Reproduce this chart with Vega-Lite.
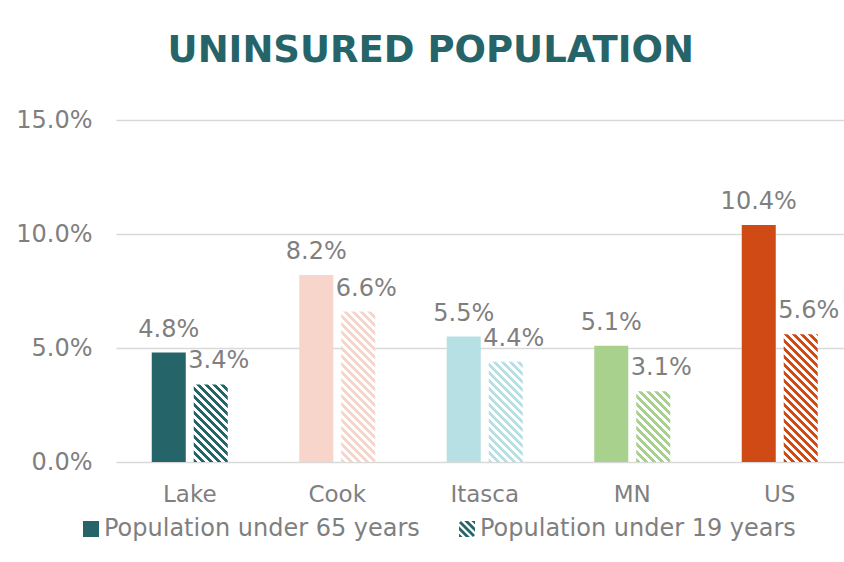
{
  "$schema": "https://vega.github.io/schema/vega-lite/v6.json",
  "autosize": {"type": "none"},
  "width": 737.5,
  "height": 342,
  "padding": {"left": 116, "top": 120, "right": 0, "bottom": 100},
  "background": "white",
  "config": {"view": {"stroke": null}},
  "title": {"text": "UNINSURED POPULATION", "font": "DejaVu Sans", "fontSize": 37, "fontWeight": "bold", "color": "#256569", "anchor": "middle", "frame": "group", "dx": -54, "baseline": "alphabetic", "offset": 9},
  "data": {"values": [
    {"county": "Lake", "series": "Population under 65 years", "value": 0.048},
    {"county": "Lake", "series": "Population under 19 years", "value": 0.034},
    {"county": "Cook", "series": "Population under 65 years", "value": 0.082},
    {"county": "Cook", "series": "Population under 19 years", "value": 0.066},
    {"county": "Itasca", "series": "Population under 65 years", "value": 0.055},
    {"county": "Itasca", "series": "Population under 19 years", "value": 0.044},
    {"county": "MN", "series": "Population under 65 years", "value": 0.051},
    {"county": "MN", "series": "Population under 19 years", "value": 0.031},
    {"county": "US", "series": "Population under 65 years", "value": 0.104},
    {"county": "US", "series": "Population under 19 years", "value": 0.056}
  ]},
  "encoding": {
    "x": {"field": "county", "type": "nominal", "sort": ["Lake", "Cook", "Itasca", "MN", "US"],
      "scale": {"paddingInner": 0.4847, "paddingOuter": 0.2424},
      "axis": {"title": null, "domain": false, "ticks": false, "labelAngle": 0, "labelPadding": 21, "labelFontSize": 23, "labelFont": "DejaVu Sans", "labelColor": "#7f7f7f"}},
    "xOffset": {"field": "series", "type": "nominal", "sort": ["Population under 65 years", "Population under 19 years"],
      "scale": {"paddingInner": 0.19, "paddingOuter": 0}},
    "y": {"field": "value", "type": "quantitative", "scale": {"domain": [0, 0.15]},
      "axis": {"title": null, "values": [0, 0.05, 0.1, 0.15], "format": ".1%", "domain": false, "ticks": false, "labelPadding": 24, "labelFontSize": 24, "labelFont": "DejaVu Sans", "labelColor": "#7f7f7f", "gridColor": "#d9d9d9", "gridWidth": 1.5}}
  },
  "layer": [
    {
      "mark": {"type": "point", "filled": true, "opacity": 0, "color": "#256569"},
      "encoding": {
        "shape": {"field": "series", "type": "nominal",
          "scale": {"domain": ["Population under 65 years", "Population under 19 years"],
            "range": ["square", "M-1,-0.75L-0.75,-1L1,0.75L0.75,1ZM-0.35,-1L0.15,-1L1,-0.15L1,0.35ZM-1,-0.35L0.35,1L-0.15,1L-1,0.15ZM0.55,-1L1,-1L1,-0.55ZM-1,0.55L-0.55,1L-1,1Z"]},
          "legend": {"title": null, "orient": "none", "legendX": -37, "legendY": 397, "direction": "horizontal", "symbolSize": 256, "labelFontSize": 24, "labelFont": "DejaVu Sans", "labelColor": "#7f7f7f", "labelOffset": 1, "columnPadding": 35, "labelLimit": 600, "padding": 0, "symbolStrokeWidth": 0,
            "encode": {"symbols": {"update": {"opacity": {"value": 1}, "fill": {"value": "#256569"}}}}}}
      }
    },
    {
      "transform": [{"filter": "datum.series === 'Population under 65 years'"}],
      "mark": {"type": "bar"},
      "encoding": {
        "color": {"field": "county", "type": "nominal", "legend": null,
          "scale": {"domain": ["Lake", "Cook", "Itasca", "MN", "US"], "range": ["#256569", "#F8D5CA", "#B6E0E4", "#A9D18E", "#D04A16"]}}
      }
    },
    {
      "transform": [{"filter": "datum.series === 'Population under 19 years' && datum.county === 'Lake'"}],
      "mark": {"type": "bar", "fill": {"gradient": "linear", "x1": 0, "y1": 1, "x2": 0.949, "y2": -1.1637, "stops": [
        {"offset":0,"color":"#256569"},{"offset":0.02,"color":"#256569"},{"offset":0.02,"color":"#fff"},{"offset":0.04,"color":"#fff"},
        {"offset":0.04,"color":"#256569"},{"offset":0.06,"color":"#256569"},{"offset":0.06,"color":"#fff"},{"offset":0.08,"color":"#fff"},
        {"offset":0.08,"color":"#256569"},{"offset":0.1,"color":"#256569"},{"offset":0.1,"color":"#fff"},{"offset":0.12,"color":"#fff"},
        {"offset":0.12,"color":"#256569"},{"offset":0.14,"color":"#256569"},{"offset":0.14,"color":"#fff"},{"offset":0.16,"color":"#fff"},
        {"offset":0.16,"color":"#256569"},{"offset":0.18,"color":"#256569"},{"offset":0.18,"color":"#fff"},{"offset":0.2,"color":"#fff"},
        {"offset":0.2,"color":"#256569"},{"offset":0.22,"color":"#256569"},{"offset":0.22,"color":"#fff"},{"offset":0.24,"color":"#fff"},
        {"offset":0.24,"color":"#256569"},{"offset":0.26,"color":"#256569"},{"offset":0.26,"color":"#fff"},{"offset":0.28,"color":"#fff"},
        {"offset":0.28,"color":"#256569"},{"offset":0.3,"color":"#256569"},{"offset":0.3,"color":"#fff"},{"offset":0.32,"color":"#fff"},
        {"offset":0.32,"color":"#256569"},{"offset":0.34,"color":"#256569"},{"offset":0.34,"color":"#fff"},{"offset":0.36,"color":"#fff"},
        {"offset":0.36,"color":"#256569"},{"offset":0.38,"color":"#256569"},{"offset":0.38,"color":"#fff"},{"offset":0.4,"color":"#fff"},
        {"offset":0.4,"color":"#256569"},{"offset":0.42,"color":"#256569"},{"offset":0.42,"color":"#fff"},{"offset":0.44,"color":"#fff"},
        {"offset":0.44,"color":"#256569"},{"offset":0.46,"color":"#256569"},{"offset":0.46,"color":"#fff"},{"offset":0.48,"color":"#fff"},
        {"offset":0.48,"color":"#256569"},{"offset":0.5,"color":"#256569"},{"offset":0.5,"color":"#fff"},{"offset":0.52,"color":"#fff"},
        {"offset":0.52,"color":"#256569"},{"offset":0.54,"color":"#256569"},{"offset":0.54,"color":"#fff"},{"offset":0.56,"color":"#fff"}
      ]}}
    },
    {
      "transform": [{"filter": "datum.series === 'Population under 19 years' && datum.county === 'Cook'"}],
      "mark": {"type": "bar", "fill": {"gradient": "linear", "x1": 0, "y1": 1, "x2": 0.2857, "y2": -0.2645, "stops": [
        {"offset":0,"color":"#F8D5CA"},{"offset":0.02,"color":"#F8D5CA"},{"offset":0.02,"color":"#fff"},{"offset":0.04,"color":"#fff"},
        {"offset":0.04,"color":"#F8D5CA"},{"offset":0.06,"color":"#F8D5CA"},{"offset":0.06,"color":"#fff"},{"offset":0.08,"color":"#fff"},
        {"offset":0.08,"color":"#F8D5CA"},{"offset":0.1,"color":"#F8D5CA"},{"offset":0.1,"color":"#fff"},{"offset":0.12,"color":"#fff"},
        {"offset":0.12,"color":"#F8D5CA"},{"offset":0.14,"color":"#F8D5CA"},{"offset":0.14,"color":"#fff"},{"offset":0.16,"color":"#fff"},
        {"offset":0.16,"color":"#F8D5CA"},{"offset":0.18,"color":"#F8D5CA"},{"offset":0.18,"color":"#fff"},{"offset":0.2,"color":"#fff"},
        {"offset":0.2,"color":"#F8D5CA"},{"offset":0.22,"color":"#F8D5CA"},{"offset":0.22,"color":"#fff"},{"offset":0.24,"color":"#fff"},
        {"offset":0.24,"color":"#F8D5CA"},{"offset":0.26,"color":"#F8D5CA"},{"offset":0.26,"color":"#fff"},{"offset":0.28,"color":"#fff"},
        {"offset":0.28,"color":"#F8D5CA"},{"offset":0.3,"color":"#F8D5CA"},{"offset":0.3,"color":"#fff"},{"offset":0.32,"color":"#fff"},
        {"offset":0.32,"color":"#F8D5CA"},{"offset":0.34,"color":"#F8D5CA"},{"offset":0.34,"color":"#fff"},{"offset":0.36,"color":"#fff"},
        {"offset":0.36,"color":"#F8D5CA"},{"offset":0.38,"color":"#F8D5CA"},{"offset":0.38,"color":"#fff"},{"offset":0.4,"color":"#fff"},
        {"offset":0.4,"color":"#F8D5CA"},{"offset":0.42,"color":"#F8D5CA"},{"offset":0.42,"color":"#fff"},{"offset":0.44,"color":"#fff"},
        {"offset":0.44,"color":"#F8D5CA"},{"offset":0.46,"color":"#F8D5CA"},{"offset":0.46,"color":"#fff"},{"offset":0.48,"color":"#fff"},
        {"offset":0.48,"color":"#F8D5CA"},{"offset":0.5,"color":"#F8D5CA"},{"offset":0.5,"color":"#fff"},{"offset":0.52,"color":"#fff"},
        {"offset":0.52,"color":"#F8D5CA"},{"offset":0.54,"color":"#F8D5CA"},{"offset":0.54,"color":"#fff"},{"offset":0.56,"color":"#fff"},
        {"offset":0.56,"color":"#F8D5CA"},{"offset":0.58,"color":"#F8D5CA"},{"offset":0.58,"color":"#fff"},{"offset":0.6,"color":"#fff"},
        {"offset":0.6,"color":"#F8D5CA"},{"offset":0.62,"color":"#F8D5CA"},{"offset":0.62,"color":"#fff"},{"offset":0.64,"color":"#fff"},
        {"offset":0.64,"color":"#F8D5CA"},{"offset":0.66,"color":"#F8D5CA"},{"offset":0.66,"color":"#fff"},{"offset":0.68,"color":"#fff"},
        {"offset":0.68,"color":"#F8D5CA"},{"offset":0.7,"color":"#F8D5CA"},{"offset":0.7,"color":"#fff"},{"offset":0.72,"color":"#fff"},
        {"offset":0.72,"color":"#F8D5CA"},{"offset":0.74,"color":"#F8D5CA"},{"offset":0.74,"color":"#fff"},{"offset":0.76,"color":"#fff"},
        {"offset":0.76,"color":"#F8D5CA"},{"offset":0.78,"color":"#F8D5CA"},{"offset":0.78,"color":"#fff"},{"offset":0.8,"color":"#fff"},
        {"offset":0.8,"color":"#F8D5CA"},{"offset":0.82,"color":"#F8D5CA"},{"offset":0.82,"color":"#fff"},{"offset":0.84,"color":"#fff"},
        {"offset":0.84,"color":"#F8D5CA"},{"offset":0.86,"color":"#F8D5CA"},{"offset":0.86,"color":"#fff"},{"offset":0.88,"color":"#fff"},
        {"offset":0.88,"color":"#F8D5CA"},{"offset":0.9,"color":"#F8D5CA"},{"offset":0.9,"color":"#fff"},{"offset":0.92,"color":"#fff"},
        {"offset":0.92,"color":"#F8D5CA"},{"offset":0.94,"color":"#F8D5CA"},{"offset":0.94,"color":"#fff"},{"offset":0.96,"color":"#fff"}
      ]}}
    },
    {
      "transform": [{"filter": "datum.series === 'Population under 19 years' && datum.county === 'Itasca'"}],
      "mark": {"type": "bar", "fill": {"gradient": "linear", "x1": 0, "y1": 1, "x2": 0.6061, "y2": -0.7882, "stops": [
        {"offset":0,"color":"#B6E0E4"},{"offset":0.02,"color":"#B6E0E4"},{"offset":0.02,"color":"#fff"},{"offset":0.04,"color":"#fff"},
        {"offset":0.04,"color":"#B6E0E4"},{"offset":0.06,"color":"#B6E0E4"},{"offset":0.06,"color":"#fff"},{"offset":0.08,"color":"#fff"},
        {"offset":0.08,"color":"#B6E0E4"},{"offset":0.1,"color":"#B6E0E4"},{"offset":0.1,"color":"#fff"},{"offset":0.12,"color":"#fff"},
        {"offset":0.12,"color":"#B6E0E4"},{"offset":0.14,"color":"#B6E0E4"},{"offset":0.14,"color":"#fff"},{"offset":0.16,"color":"#fff"},
        {"offset":0.16,"color":"#B6E0E4"},{"offset":0.18,"color":"#B6E0E4"},{"offset":0.18,"color":"#fff"},{"offset":0.2,"color":"#fff"},
        {"offset":0.2,"color":"#B6E0E4"},{"offset":0.22,"color":"#B6E0E4"},{"offset":0.22,"color":"#fff"},{"offset":0.24,"color":"#fff"},
        {"offset":0.24,"color":"#B6E0E4"},{"offset":0.26,"color":"#B6E0E4"},{"offset":0.26,"color":"#fff"},{"offset":0.28,"color":"#fff"},
        {"offset":0.28,"color":"#B6E0E4"},{"offset":0.3,"color":"#B6E0E4"},{"offset":0.3,"color":"#fff"},{"offset":0.32,"color":"#fff"},
        {"offset":0.32,"color":"#B6E0E4"},{"offset":0.34,"color":"#B6E0E4"},{"offset":0.34,"color":"#fff"},{"offset":0.36,"color":"#fff"},
        {"offset":0.36,"color":"#B6E0E4"},{"offset":0.38,"color":"#B6E0E4"},{"offset":0.38,"color":"#fff"},{"offset":0.4,"color":"#fff"},
        {"offset":0.4,"color":"#B6E0E4"},{"offset":0.42,"color":"#B6E0E4"},{"offset":0.42,"color":"#fff"},{"offset":0.44,"color":"#fff"},
        {"offset":0.44,"color":"#B6E0E4"},{"offset":0.46,"color":"#B6E0E4"},{"offset":0.46,"color":"#fff"},{"offset":0.48,"color":"#fff"},
        {"offset":0.48,"color":"#B6E0E4"},{"offset":0.5,"color":"#B6E0E4"},{"offset":0.5,"color":"#fff"},{"offset":0.52,"color":"#fff"},
        {"offset":0.52,"color":"#B6E0E4"},{"offset":0.54,"color":"#B6E0E4"},{"offset":0.54,"color":"#fff"},{"offset":0.56,"color":"#fff"},
        {"offset":0.56,"color":"#B6E0E4"},{"offset":0.58,"color":"#B6E0E4"},{"offset":0.58,"color":"#fff"},{"offset":0.6,"color":"#fff"},
        {"offset":0.6,"color":"#B6E0E4"},{"offset":0.62,"color":"#B6E0E4"},{"offset":0.62,"color":"#fff"},{"offset":0.64,"color":"#fff"},
        {"offset":0.64,"color":"#B6E0E4"},{"offset":0.66,"color":"#B6E0E4"},{"offset":0.66,"color":"#fff"},{"offset":0.68,"color":"#fff"}
      ]}}
    },
    {
      "transform": [{"filter": "datum.series === 'Population under 19 years' && datum.county === 'MN'"}],
      "mark": {"type": "bar", "fill": {"gradient": "linear", "x1": 0, "y1": 1, "x2": 1.1054, "y2": -1.2979, "stops": [
        {"offset":0,"color":"#A9D18E"},{"offset":0.02,"color":"#A9D18E"},{"offset":0.02,"color":"#fff"},{"offset":0.04,"color":"#fff"},
        {"offset":0.04,"color":"#A9D18E"},{"offset":0.06,"color":"#A9D18E"},{"offset":0.06,"color":"#fff"},{"offset":0.08,"color":"#fff"},
        {"offset":0.08,"color":"#A9D18E"},{"offset":0.1,"color":"#A9D18E"},{"offset":0.1,"color":"#fff"},{"offset":0.12,"color":"#fff"},
        {"offset":0.12,"color":"#A9D18E"},{"offset":0.14,"color":"#A9D18E"},{"offset":0.14,"color":"#fff"},{"offset":0.16,"color":"#fff"},
        {"offset":0.16,"color":"#A9D18E"},{"offset":0.18,"color":"#A9D18E"},{"offset":0.18,"color":"#fff"},{"offset":0.2,"color":"#fff"},
        {"offset":0.2,"color":"#A9D18E"},{"offset":0.22,"color":"#A9D18E"},{"offset":0.22,"color":"#fff"},{"offset":0.24,"color":"#fff"},
        {"offset":0.24,"color":"#A9D18E"},{"offset":0.26,"color":"#A9D18E"},{"offset":0.26,"color":"#fff"},{"offset":0.28,"color":"#fff"},
        {"offset":0.28,"color":"#A9D18E"},{"offset":0.3,"color":"#A9D18E"},{"offset":0.3,"color":"#fff"},{"offset":0.32,"color":"#fff"},
        {"offset":0.32,"color":"#A9D18E"},{"offset":0.34,"color":"#A9D18E"},{"offset":0.34,"color":"#fff"},{"offset":0.36,"color":"#fff"},
        {"offset":0.36,"color":"#A9D18E"},{"offset":0.38,"color":"#A9D18E"},{"offset":0.38,"color":"#fff"},{"offset":0.4,"color":"#fff"},
        {"offset":0.4,"color":"#A9D18E"},{"offset":0.42,"color":"#A9D18E"},{"offset":0.42,"color":"#fff"},{"offset":0.44,"color":"#fff"},
        {"offset":0.44,"color":"#A9D18E"},{"offset":0.46,"color":"#A9D18E"},{"offset":0.46,"color":"#fff"},{"offset":0.48,"color":"#fff"},
        {"offset":0.48,"color":"#A9D18E"},{"offset":0.5,"color":"#A9D18E"},{"offset":0.5,"color":"#fff"},{"offset":0.52,"color":"#fff"},
        {"offset":0.52,"color":"#A9D18E"},{"offset":0.54,"color":"#A9D18E"},{"offset":0.54,"color":"#fff"},{"offset":0.56,"color":"#fff"}
      ]}}
    },
    {
      "transform": [{"filter": "datum.series === 'Population under 19 years' && datum.county === 'US'"}],
      "mark": {"type": "bar", "fill": {"gradient": "linear", "x1": 0, "y1": 1, "x2": 0.3895, "y2": -0.4627, "stops": [
        {"offset":0,"color":"#D04A16"},{"offset":0.02,"color":"#D04A16"},{"offset":0.02,"color":"#fff"},{"offset":0.04,"color":"#fff"},
        {"offset":0.04,"color":"#D04A16"},{"offset":0.06,"color":"#D04A16"},{"offset":0.06,"color":"#fff"},{"offset":0.08,"color":"#fff"},
        {"offset":0.08,"color":"#D04A16"},{"offset":0.1,"color":"#D04A16"},{"offset":0.1,"color":"#fff"},{"offset":0.12,"color":"#fff"},
        {"offset":0.12,"color":"#D04A16"},{"offset":0.14,"color":"#D04A16"},{"offset":0.14,"color":"#fff"},{"offset":0.16,"color":"#fff"},
        {"offset":0.16,"color":"#D04A16"},{"offset":0.18,"color":"#D04A16"},{"offset":0.18,"color":"#fff"},{"offset":0.2,"color":"#fff"},
        {"offset":0.2,"color":"#D04A16"},{"offset":0.22,"color":"#D04A16"},{"offset":0.22,"color":"#fff"},{"offset":0.24,"color":"#fff"},
        {"offset":0.24,"color":"#D04A16"},{"offset":0.26,"color":"#D04A16"},{"offset":0.26,"color":"#fff"},{"offset":0.28,"color":"#fff"},
        {"offset":0.28,"color":"#D04A16"},{"offset":0.3,"color":"#D04A16"},{"offset":0.3,"color":"#fff"},{"offset":0.32,"color":"#fff"},
        {"offset":0.32,"color":"#D04A16"},{"offset":0.34,"color":"#D04A16"},{"offset":0.34,"color":"#fff"},{"offset":0.36,"color":"#fff"},
        {"offset":0.36,"color":"#D04A16"},{"offset":0.38,"color":"#D04A16"},{"offset":0.38,"color":"#fff"},{"offset":0.4,"color":"#fff"},
        {"offset":0.4,"color":"#D04A16"},{"offset":0.42,"color":"#D04A16"},{"offset":0.42,"color":"#fff"},{"offset":0.44,"color":"#fff"},
        {"offset":0.44,"color":"#D04A16"},{"offset":0.46,"color":"#D04A16"},{"offset":0.46,"color":"#fff"},{"offset":0.48,"color":"#fff"},
        {"offset":0.48,"color":"#D04A16"},{"offset":0.5,"color":"#D04A16"},{"offset":0.5,"color":"#fff"},{"offset":0.52,"color":"#fff"},
        {"offset":0.52,"color":"#D04A16"},{"offset":0.54,"color":"#D04A16"},{"offset":0.54,"color":"#fff"},{"offset":0.56,"color":"#fff"},
        {"offset":0.56,"color":"#D04A16"},{"offset":0.58,"color":"#D04A16"},{"offset":0.58,"color":"#fff"},{"offset":0.6,"color":"#fff"},
        {"offset":0.6,"color":"#D04A16"},{"offset":0.62,"color":"#D04A16"},{"offset":0.62,"color":"#fff"},{"offset":0.64,"color":"#fff"},
        {"offset":0.64,"color":"#D04A16"},{"offset":0.66,"color":"#D04A16"},{"offset":0.66,"color":"#fff"},{"offset":0.68,"color":"#fff"},
        {"offset":0.68,"color":"#D04A16"},{"offset":0.7,"color":"#D04A16"},{"offset":0.7,"color":"#fff"},{"offset":0.72,"color":"#fff"},
        {"offset":0.72,"color":"#D04A16"},{"offset":0.74,"color":"#D04A16"},{"offset":0.74,"color":"#fff"},{"offset":0.76,"color":"#fff"},
        {"offset":0.76,"color":"#D04A16"},{"offset":0.78,"color":"#D04A16"},{"offset":0.78,"color":"#fff"},{"offset":0.8,"color":"#fff"},
        {"offset":0.8,"color":"#D04A16"},{"offset":0.82,"color":"#D04A16"},{"offset":0.82,"color":"#fff"},{"offset":0.84,"color":"#fff"}
      ]}}
    },
    {
      "transform": [{"filter": "datum.series === 'Population under 65 years'"}],
      "mark": {"type": "text", "baseline": "alphabetic", "dy": -16, "fontSize": 24, "font": "DejaVu Sans", "color": "#7f7f7f"},
      "encoding": {"text": {"field": "value", "type": "quantitative", "format": ".1%"}}
    },
    {
      "transform": [{"filter": "datum.series === 'Population under 19 years'"}],
      "mark": {"type": "text", "baseline": "alphabetic", "dy": -16, "dx": 8, "fontSize": 24, "font": "DejaVu Sans", "color": "#7f7f7f"},
      "encoding": {"text": {"field": "value", "type": "quantitative", "format": ".1%"}}
    }
  ]
}
